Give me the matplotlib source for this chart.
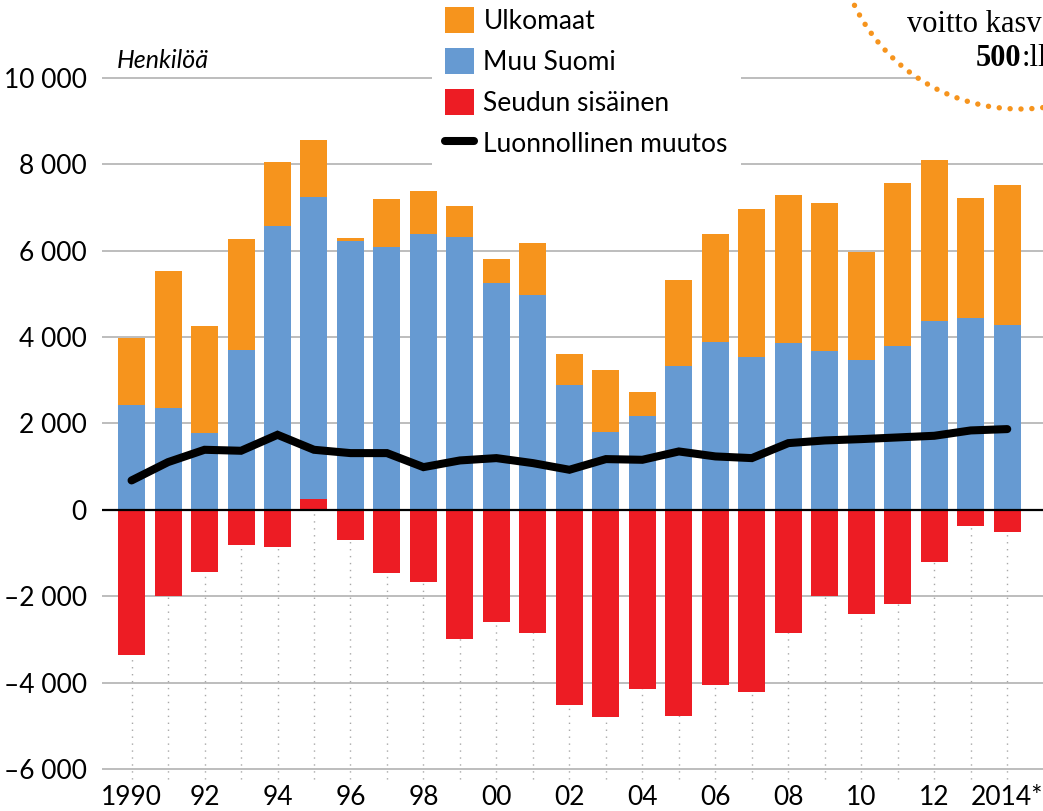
import matplotlib
matplotlib.use('Agg')
import numpy as np
import matplotlib.pyplot as plt
from matplotlib.patches import Patch, Circle
from matplotlib.lines import Line2D

plt.rcParams['font.family'] = ['Lato', 'DejaVu Sans']

years = list(range(1990, 2015))
ulkomaat = [1560, 3166, 2479, 2563, 1475, 1321, 69, 1112, 988, 718, 556, 1205, 718,
            1429, 548, 1984, 2494, 3428, 3429, 3428, 2494, 3769, 3729, 2772, 3243]
muu_suomi = [2425, 2363, 1776, 3707, 6579, 6983, 6224, 6085, 6394, 6317, 5251, 4973, 2888,
             1807, 2178, 3336, 3892, 3537, 3861, 3676, 3475, 3799, 4371, 4448, 4278]
seudun = [-3358, -2007, -1429, -810, -855, 260, -695, -1460, -1667, -2990, -2590, -2850, -4517,
          -4795, -4147, -4772, -4054, -4216, -2849, -1992, -2409, -2178, -1205, -371, -510]
luonnollinen = [680, 1104, 1390, 1367, 1737, 1390, 1313, 1313, 988, 1143, 1197, 1081, 927,
                1174, 1158, 1351, 1236, 1197, 1544, 1606, 1637, 1676, 1714, 1838, 1869]
xtick_years = list(range(1990, 2015, 2))
xtick_labels = ['1990', '92', '94', '96', '98', '00', '02', '04', '06', '08', '10', '12', '2014*']
yticks = [-6000, -4000, -2000, 0, 2000, 4000, 6000, 8000, 10000]
ytick_labels = ['–6 000', '–4 000', '–2 000', '0', '2 000', '4 000', '6 000', '8 000', '10 000']

c_orange = '#F6941D'
c_blue = '#669AD2'
c_red = '#ED1C24'

fig = plt.figure(figsize=(10.43, 8.11), dpi=100)
ax = fig.add_axes([102 / 1043, 27 / 811, 1 - 102 / 1043, 1 - 27 / 811])

x = np.array(years)
seu = np.array(seudun)
muu = np.array(muu_suomi)
ulk = np.array(ulkomaat)
base_blue = np.where(seu > 0, seu, 0)
w = 0.74

# dotted year lines under the bars
ax.vlines(x, -6400, 0, colors='#A8A8A8', linestyles=(0, (1, 4)), linewidth=1.0, zorder=1)
for yv in yticks:
    if yv != 0:
        ax.axhline(yv, color='#BDBDBD', linewidth=1.4, zorder=0.5)

ax.bar(x, seu, width=w, color=c_red, zorder=2)
ax.bar(x, muu, width=w, bottom=base_blue, color=c_blue, zorder=2)
ax.bar(x, ulk, width=w, bottom=base_blue + muu, color=c_orange, zorder=2)
ax.axhline(0, color='black', linewidth=1.6, zorder=3)
ax.plot(x, luonnollinen, color='black', linewidth=5.8, solid_capstyle='round',
        solid_joinstyle='miter', zorder=4)

ax.set_xlim(1989.19, 2014.98)
ax.set_ylim(-6350, 11806)
ax.set_xticks(xtick_years)
ax.set_xticklabels(xtick_labels)
ax.set_yticks(yticks)
ax.set_yticklabels(ytick_labels)
ax.tick_params(axis='both', length=0, labelsize=19, colors='black')
ax.tick_params(axis='y', pad=11)
ax.tick_params(axis='x', pad=1)
for s in ax.spines.values():
    s.set_visible(False)

ax.text(1989.6, 10150, 'Henkilöä', style='italic', fontsize=18, va='bottom', ha='left')

handles = [Patch(facecolor=c_orange), Patch(facecolor=c_blue), Patch(facecolor=c_red),
           Line2D([0], [0], color='black', linewidth=5.8, solid_capstyle='round')]
labels = ['Ulkomaat', 'Muu Suomi', 'Seudun sisäinen', 'Luonnollinen muutos']
leg = ax.legend(handles, labels, loc='upper left', bbox_to_anchor=(432 / 1043, 817 / 811),
                bbox_transform=fig.transFigure, fontsize=19, frameon=True, fancybox=False,
                framealpha=1, edgecolor='none', facecolor='white', borderaxespad=0,
                borderpad=0.5, handlelength=1.1, handleheight=1.1, labelspacing=0.55,
                handletextpad=0.35)
leg.set_zorder(6)

# decorative corner element
ov = fig.add_axes([0, 0, 1, 1], zorder=10)
ov.set_xlim(0, 1043)
ov.set_ylim(811, 0)
ov.axis('off')
ov.add_patch(Circle((1020, -75), 184, facecolor='white', edgecolor=c_orange,
                    linestyle=(0, (0.01, 2.0)), linewidth=3.9, capstyle='round'))
ov.text(907, 32, 'voitto kasv', family='Liberation Serif', fontsize=22, va='baseline')
t500 = ov.text(976, 66, '500', family='Liberation Serif', fontsize=22, fontweight='bold',
               va='baseline')
ov.annotate(':ll', xy=(1, 0), xycoords=t500, family='Liberation Serif', fontsize=22,
            va='bottom', ha='left')

fig.savefig('out.png', dpi=100)
